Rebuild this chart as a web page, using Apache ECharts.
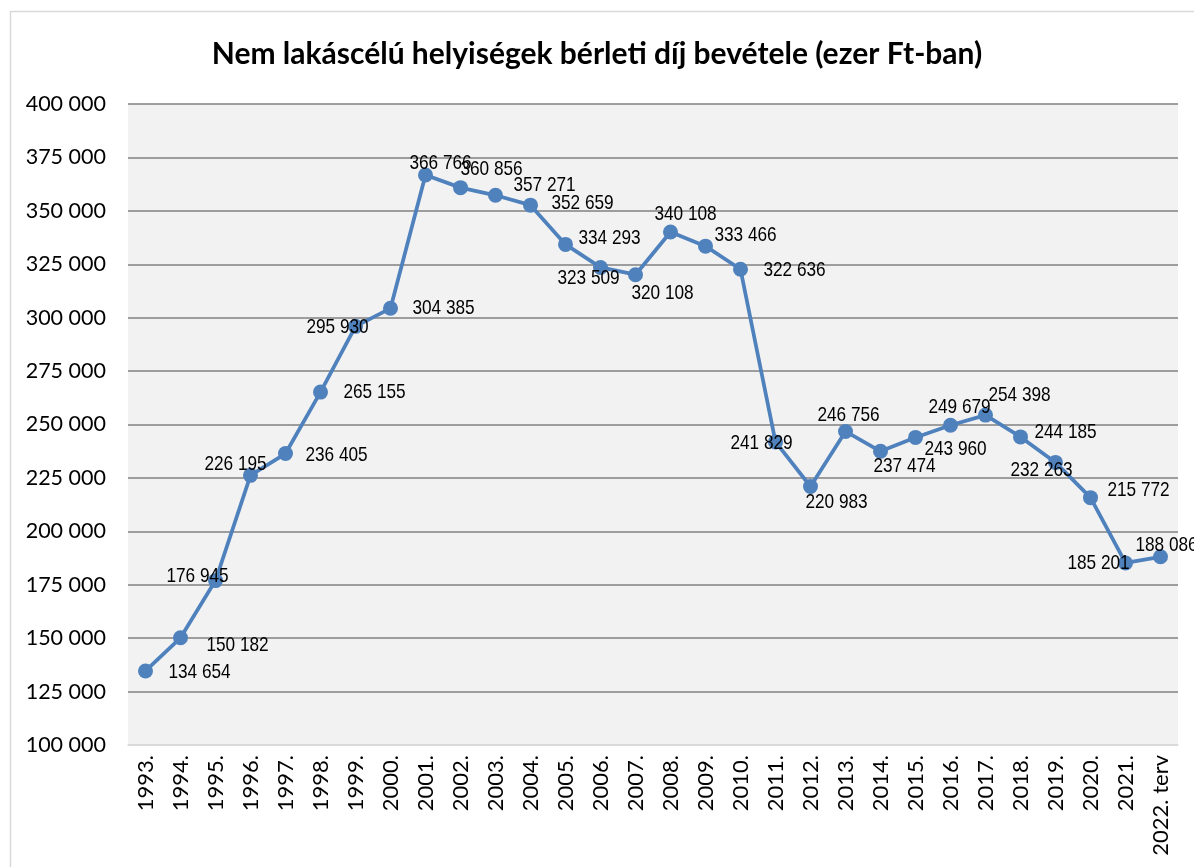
<!DOCTYPE html>
<html>
<head>
<meta charset="utf-8">
<script src="https://cdn.jsdelivr.net/npm/echarts@6/dist/echarts.min.js"></script>
<style>
html,body{margin:0;padding:0;background:#fff;}
#chart{width:1194px;height:867px;}
</style>
</head>
<body>
<div id="chart"></div>
<script>
const categories = ['1993.','1994.','1995.','1996.','1997.','1998.','1999.','2000.','2001.','2002.','2003.','2004.','2005.','2006.','2007.','2008.','2009.','2010.','2011.','2012.','2013.','2014.','2015.','2016.','2017.','2018.','2019.','2020.','2021.','2022. terv'];
const values = [134654,150182,176945,226195,236405,265155,295930,304385,366766,360856,357271,352659,334293,323509,320108,340108,333466,322636,241829,220983,246756,237474,243960,249679,254398,244185,232263,215772,185201,188086];
const yTicks = [100000,125000,150000,175000,200000,225000,250000,275000,300000,325000,350000,375000,400000];
const titleText = 'Nem lakáscélú helyiségek bérleti díj bevétele (ezer Ft-ban)';

// label offsets (style only): [dx, dy] from the point centre
const labelOffsets = [
  [54,1],[57,7],[-18,-4],[-15,-11],[51,2],[54,0],[-18,1],[53,0],
  [15,-12],[31,-18],[49,-10],[52,-2],[44,-6],[-12,11],[27,19],[15,-18],
  [40,-11],[54,1],[-14,1],[26,16],[3,-16],[24,15],[40,12],[9,-18],
  [34,-20],[45,-5],[-14,8],[48,-7],[-27,0],[6,-12]
];

function fmt(v){ return String(v).replace(/\B(?=(\d{3})+(?!\d))/g,' '); }

const chart = echarts.init(document.getElementById('chart'), null, {renderer:'canvas'});
chart.setOption({
  animation:false,
  backgroundColor:'#ffffff',
  title:{
    text:titleText, left:'center', top:34,
    textStyle:{fontFamily:'Lato', fontWeight:'bold', fontSize:30, color:'#000'}
  },
  graphic:[{
    type:'rect', shape:{x:10.5,y:11.5,width:1200,height:900},
    style:{fill:null, stroke:'#d9d9d9', lineWidth:1.5}, silent:true, z:-1
  }],
  grid:{left:128, right:16, top:104, bottom:122, show:true, backgroundColor:'#f2f2f2', borderWidth:0},
  xAxis:{
    type:'category', data:categories, boundaryGap:true,
    axisLine:{show:true, lineStyle:{color:'#d9d9d9', width:1.5}},
    axisTick:{show:false},
    axisLabel:{rotate:90, interval:0, margin:10, fontFamily:'Lato', fontSize:22, color:'#000'}
  },
  yAxis:{
    type:'value', min:yTicks[0], max:yTicks[yTicks.length-1], interval:yTicks[1]-yTicks[0],
    axisLine:{show:false}, axisTick:{show:false},
    splitLine:{show:true, lineStyle:{color:['#d9d9d9','#808080','#808080','#808080','#808080','#808080','#808080','#808080','#808080','#808080','#808080','#808080','#808080'], width:1.5}},
    axisLabel:{formatter:v=>fmt(v), margin:22, fontFamily:'Lato', fontSize:21.5, color:'#000'}
  },
  series:[{
    type:'line', data:values,
    symbol:'circle', symbolSize:15,
    itemStyle:{color:'#4f81bd'},
    lineStyle:{color:'#4f81bd', width:3.75},
    label:{show:false},
    z:2
  },{
    type:'custom', data:values.map((v,i)=>[i,v]), z:5, silent:true,
    renderItem:function(params, api){
      const i = api.value(0);
      const p = api.coord([i, api.value(1)]);
      const off = labelOffsets[i];
      return {
        type:'text', x:p[0]+off[0], y:p[1]+off[1], scaleX:0.82,
        style:{text:fmt(api.value(1)), font:'21px "Liberation Sans"', fill:'#000', align:'center', verticalAlign:'middle'}
      };
    }
  }]
});
</script>
</body>
</html>
